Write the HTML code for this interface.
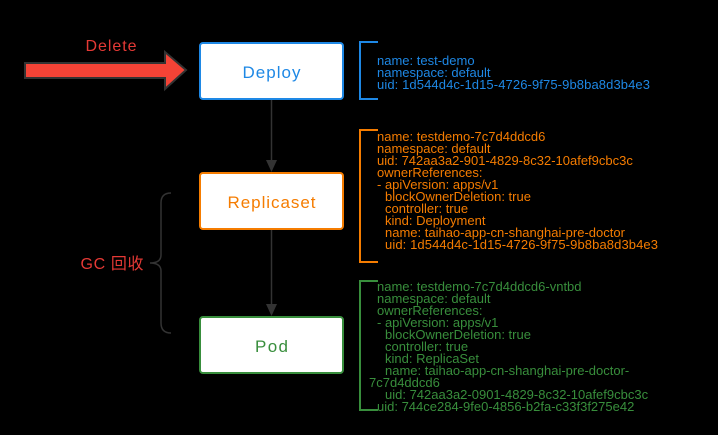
<!DOCTYPE html>
<html><head><meta charset="utf-8"><style>
html,body{margin:0;padding:0;background:#000;}
svg{display:block}
text{font-family:"Liberation Sans","Noto Sans CJK SC",sans-serif;}
</style></head><body>
<svg width="718" height="435" viewBox="0 0 718 435" xmlns="http://www.w3.org/2000/svg">
<rect width="718" height="435" fill="#000"/>
<polygon points="25,63 165,63 165,52 186,70 165,89 165,78 25,78" fill="#f44336" stroke="#333" stroke-width="2"/>
<text x="111" y="51" font-size="16" fill="#e53935" text-anchor="middle" textLength="51">Delete</text>
<rect x="200" y="43" width="143" height="56" rx="3" fill="#fff" stroke="#1e88e5" stroke-width="2"/>
<text x="271.5" y="78" font-size="17" fill="#1e88e5" text-anchor="middle" textLength="58">Deploy</text>
<rect x="200" y="173" width="143" height="56" rx="3" fill="#fff" stroke="#f57c00" stroke-width="2"/>
<text x="271.5" y="208" font-size="17" fill="#f57c00" text-anchor="middle" textLength="88">Replicaset</text>
<rect x="200" y="317" width="143" height="56" rx="3" fill="#fff" stroke="#388e3c" stroke-width="2"/>
<text x="271.5" y="352" font-size="17" fill="#388e3c" text-anchor="middle" textLength="33">Pod</text>
<line x1="271.5" y1="100" x2="271.5" y2="162" stroke="#333" stroke-width="1.5"/>
<polygon points="266,160 277,160 271.5,172" fill="#333"/>
<line x1="271.5" y1="230" x2="271.5" y2="306" stroke="#333" stroke-width="1.5"/>
<polygon points="266,304 277,304 271.5,316" fill="#333"/>
<path d="M171,193 Q161,193 161,203 L161,255 Q161,263 150,263 Q161,263 161,271 L161,323 Q161,333 171,333" fill="none" stroke="#333" stroke-width="1.5"/>
<text x="112" y="269" font-size="16" fill="#e53935" text-anchor="middle" textLength="63">GC 回收</text>
<path d="M378,42 L360,42 L360,99 L378,99" fill="none" stroke="#1e88e5" stroke-width="2"/>
<path d="M378,130 L360,130 L360,262 L378,262" fill="none" stroke="#f57c00" stroke-width="2"/>
<path d="M378,281 L360,281 L360,410 L378,410" fill="none" stroke="#388e3c" stroke-width="2"/>
<g font-size="13" fill="#1e88e5">
<text x="377" y="65">name: test-demo</text>
<text x="377" y="77">namespace: default</text>
<text x="377" y="89" textLength="273">uid: 1d544d4c-1d15-4726-9f75-9b8ba8d3b4e3</text>
</g>
<g font-size="13" fill="#f57c00">
<text x="377" y="141">name: testdemo-7c7d4ddcd6</text>
<text x="377" y="153">namespace: default</text>
<text x="377" y="165">uid: 742aa3a2-901-4829-8c32-10afef9cbc3c</text>
<text x="377" y="177">ownerReferences:</text>
<text x="377" y="189">- apiVersion: apps/v1</text>
<text x="385" y="201">blockOwnerDeletion: true</text>
<text x="385" y="213">controller: true</text>
<text x="385" y="225">kind: Deployment</text>
<text x="385" y="237">name: taihao-app-cn-shanghai-pre-doctor</text>
<text x="385" y="249" textLength="273">uid: 1d544d4c-1d15-4726-9f75-9b8ba8d3b4e3</text>
</g>
<g font-size="13" fill="#388e3c">
<text x="377" y="291">name: testdemo-7c7d4ddcd6-vntbd</text>
<text x="377" y="303">namespace: default</text>
<text x="377" y="315">ownerReferences:</text>
<text x="377" y="327">- apiVersion: apps/v1</text>
<text x="385" y="339">blockOwnerDeletion: true</text>
<text x="385" y="351">controller: true</text>
<text x="385" y="363">kind: ReplicaSet</text>
<text x="385" y="375">name: taihao-app-cn-shanghai-pre-doctor-</text>
<text x="369" y="387">7c7d4ddcd6</text>
<text x="385" y="399">uid: 742aa3a2-0901-4829-8c32-10afef9cbc3c</text>
<text x="377" y="411">uid: 744ce284-9fe0-4856-b2fa-c33f3f275e42</text>
</g>
</svg>
</body></html>
